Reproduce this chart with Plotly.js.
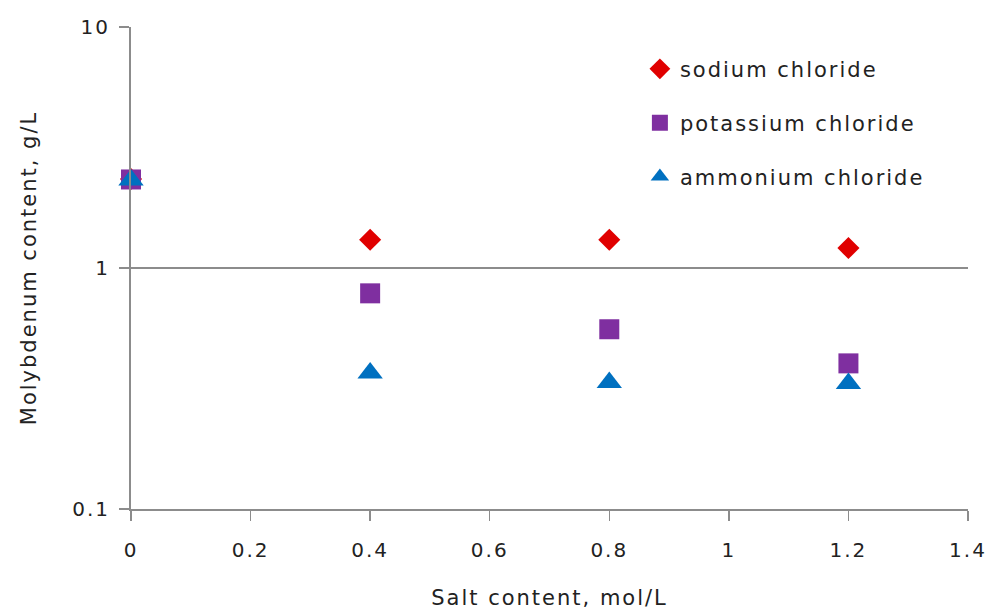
<!DOCTYPE html>
<html>
<head>
<meta charset="utf-8">
<script src="https://cdn.plot.ly/plotly-3.0.1.min.js"></script>
<style>
html,body{margin:0;padding:0;background:#fff;}
#chart{width:989px;height:610px;}
svg text{letter-spacing:2px;}
</style>
</head>
<body>
<div id="chart"></div>
<script>
const saltContent = [0, 0.4, 0.8, 1.2];
const sodiumChloride = [2.34, 1.31, 1.31, 1.21];
const potassiumChloride = [2.33, 0.785, 0.557, 0.402];
const ammoniumChloride = [2.32, 0.367, 0.335, 0.332];
const seriesNames = ['sodium chloride', 'potassium chloride', 'ammonium chloride'];
const xTicks = [0, 0.2, 0.4, 0.6, 0.8, 1, 1.2, 1.4];
const xTickText = ['0', '0.2', '0.4', '0.6', '0.8', '1', '1.2', '1.4'];
const yTicks = [0.1, 1, 10];
const yTickText = ['0.1', '1', '10'];

const FONT = 'DejaVu Sans, Verdana, sans-serif';
const traces = [
  {x: saltContent, y: sodiumChloride, name: seriesNames[0], legendgroup: 'a',
   type: 'scatter', mode: 'markers', cliponaxis: false,
   marker: {symbol: 'diamond', size: 17, color: '#E00000'}},
  {x: saltContent, y: potassiumChloride, name: seriesNames[1], legendgroup: 'b',
   type: 'scatter', mode: 'markers', cliponaxis: false,
   marker: {symbol: 'square', size: 20, color: '#7F2FA0'}},
  {x: saltContent, y: ammoniumChloride, name: seriesNames[2], legendgroup: 'c',
   type: 'scatter', mode: 'markers', cliponaxis: false,
   marker: {symbol: 'triangle-up', size: 22, color: '#0070C0'}}
];

const layout = {
  width: 989, height: 610,
  margin: {l: 131, r: 21, t: 27, b: 101},
  paper_bgcolor: '#ffffff', plot_bgcolor: '#ffffff',
  font: {family: FONT, size: 20, color: '#222'},
  showlegend: true,
  legend: {x: 0.608, y: 0.955, xanchor: 'left', yanchor: 'top',
           font: {family: FONT, size: 21, color: '#222'},
           tracegroupgap: 23.5, bgcolor: 'rgba(0,0,0,0)', itemclick: false},
  xaxis: {
    range: [0, 1.4], tickmode: 'array', tickvals: xTicks, ticktext: xTickText,
    showgrid: false, zeroline: false, showline: true, linecolor: '#8c8c8c', linewidth: 2,
    ticks: 'outside', ticklen: 10, tickcolor: '#8c8c8c', tickwidth: 1.5,
    ticklabelstandoff: 12,
    tickfont: {family: FONT, size: 20, color: '#222'},
    title: {text: 'Salt content, mol/L', font: {family: FONT, size: 21, color: '#222'}, standoff: 30}
  },
  yaxis: {
    type: 'log', range: [-1, 1], tickmode: 'array', tickvals: yTicks, ticktext: yTickText,
    showgrid: true, gridcolor: '#8c8c8c', gridwidth: 2,
    zeroline: false, showline: true, linecolor: '#8c8c8c', linewidth: 2,
    ticks: 'outside', ticklen: 10, tickcolor: '#8c8c8c', tickwidth: 1.5,
    ticklabelstandoff: 5,
    tickfont: {family: FONT, size: 20, color: '#222'},
    title: {text: 'Molybdenum content, g/L', font: {family: FONT, size: 21, color: '#222'}, standoff: 30}
  }
};

Plotly.newPlot('chart', traces, layout, {displayModeBar: false, staticPlot: true});
</script>
</body>
</html>
